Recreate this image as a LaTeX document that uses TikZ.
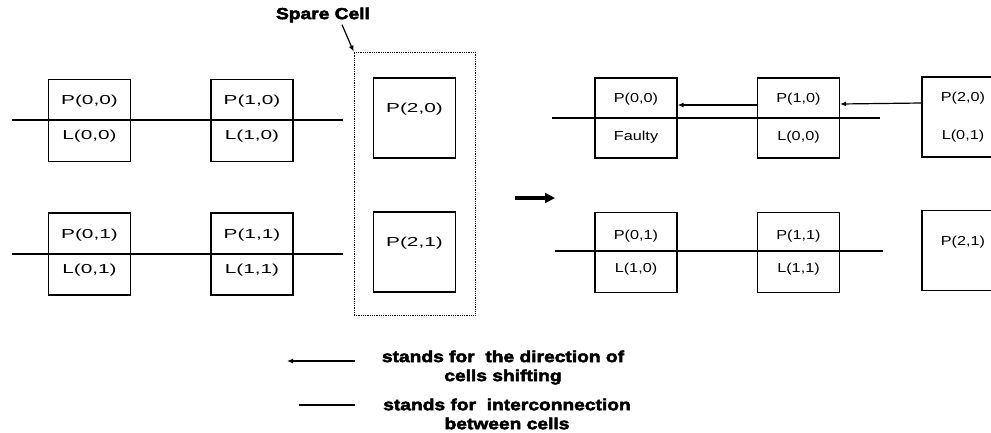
\documentclass[tikz,border=0pt]{standalone}
\usepackage{fontspec}
\setmainfont{Liberation Sans}
\newfontfamily\cellfont{Liberation Sans}[FakeStretch=1.6]
\newfontfamily\cellfontr{Liberation Sans}[FakeStretch=1.25]
\newfontfamily\heavyfont{Liberation Sans Bold}[FakeStretch=1.2,FakeBold=3]
\usetikzlibrary{arrows.meta,positioning}

\tikzset{
    cell/.style={draw,line width=1.2pt,minimum width=82pt,minimum height=82pt,inner sep=0pt},
    lbl/.style={inner sep=0pt,font=\cellfont\fontsize{13}{15}\selectfont},
    lblr/.style={inner sep=0pt,font=\cellfontr\fontsize{13}{15}\selectfont},
    link/.style={line width=2.8pt},
    shiftarrow/.style={line width=1.2pt,-{Latex[length=6pt,width=5pt]}},
    legtext/.style={inner sep=0pt,align=center,font=\heavyfont\fontsize{16}{19}\selectfont}
}

\begin{document}
\begin{tikzpicture}[x=1pt,y=-1pt]
    \clip (0,0) rectangle (991,432);

    % array before the shift
    \foreach \i/\x in {0/89.5,1/252} {
        \foreach \j/\y in {0/120.5,1/254} {
            \node [cell] (a\i\j) at (\x,\y) {};
            \node [lbl] at ([yshift=19pt]a\i\j.center) {P(\i,\j)};
            \node [lbl] at ([yshift=-16pt]a\i\j.center) {L(\i,\j)};
        }
    }

    % spare column
    \foreach \j/\y in {0/118,1/252} {
        \node [cell,minimum height=80pt] (a2\j) at (414.5,\y) {};
        \node [lbl] at ([yshift=9pt]a2\j.center) {P(2,\j)};
    }
    \node [draw,densely dotted,line width=0.8pt,minimum width=121pt,minimum height=263pt] (spare) at (414.5,183.5) {};
    \node [legtext] (sparelbl) at (323,15) {Spare Cell};
    \draw [line width=1.2pt,-{Latex[length=6pt,width=5pt]}] ([xshift=19pt,yshift=-2pt]sparelbl.south) -- (spare.north west);

    % interconnections, left
    \foreach \y/\n in {120/0,254/1} {
        \coordinate (la\n) at (12,\y);
        \coordinate (lb\n) at (343,\y);
        \draw [link] (la\n) -- (lb\n);
    }

    % after the shift
    \foreach \nm/\x/\y/\up/\dn/\top/\bot in {
        00/636/118/19/19/{P(0,0)}/{Faulty},
        10/798.5/118/19/19/{P(1,0)}/{L(0,0)},
        20/963/117/19/19/{P(2,0)}/{L(0,1)},
        01/636/252.5/16/17/{P(0,1)}/{L(1,0)},
        11/798.5/252.5/16/17/{P(1,1)}/{L(1,1)}} {
        \node [cell,minimum height=80pt] (b\nm) at (\x,\y) {};
        \node [lblr] at ([yshift=\up pt]b\nm.center) {\top};
        \node [lblr] at ([yshift=-\dn pt]b\nm.center) {\bot};
    }
    \node [cell,minimum height=80pt] (b21) at (963,250.5) {};
    \node [lblr] at ([yshift=8pt]b21.center) {P(2,1)};

    % interconnections, right
    \coordinate (ra0) at (552,118);
    \coordinate (rb0) at (880,118);
    \coordinate (ra1) at (555,251);
    \coordinate (rb1) at (883,251);
    \draw [link] (ra0) -- (rb0);
    \draw [link] (ra1) -- (rb1);

    % direction of shifting
    \draw [shiftarrow] ([yshift=14pt]b20.west) -- ([yshift=14pt]b10.east);
    \draw [shiftarrow] ([yshift=13pt]b10.west) -- ([yshift=13pt]b00.east);

    % before -> after
    \coordinate (ma) at (515,198);
    \coordinate (mb) at (555,198);
    \draw [line width=3.5pt,-{Triangle[length=10pt,width=10pt]}] (ma) -- (mb);

    % legend
    \node [legtext] (leg1) at (503,367.5) {stands for\ \ the direction of\\cells shifting};
    \node [legtext] (leg2) at (507,414) {stands for\ \ interconnection\\between cells};
    \coordinate (g1a) at (355,361);
    \coordinate (g1b) at (287,361);
    \coordinate (g2a) at (299,405);
    \coordinate (g2b) at (355,405);
    \draw [shiftarrow] (g1a) -- (g1b);
    \draw [line width=2.2pt] (g2a) -- (g2b);
\end{tikzpicture}
\end{document}
